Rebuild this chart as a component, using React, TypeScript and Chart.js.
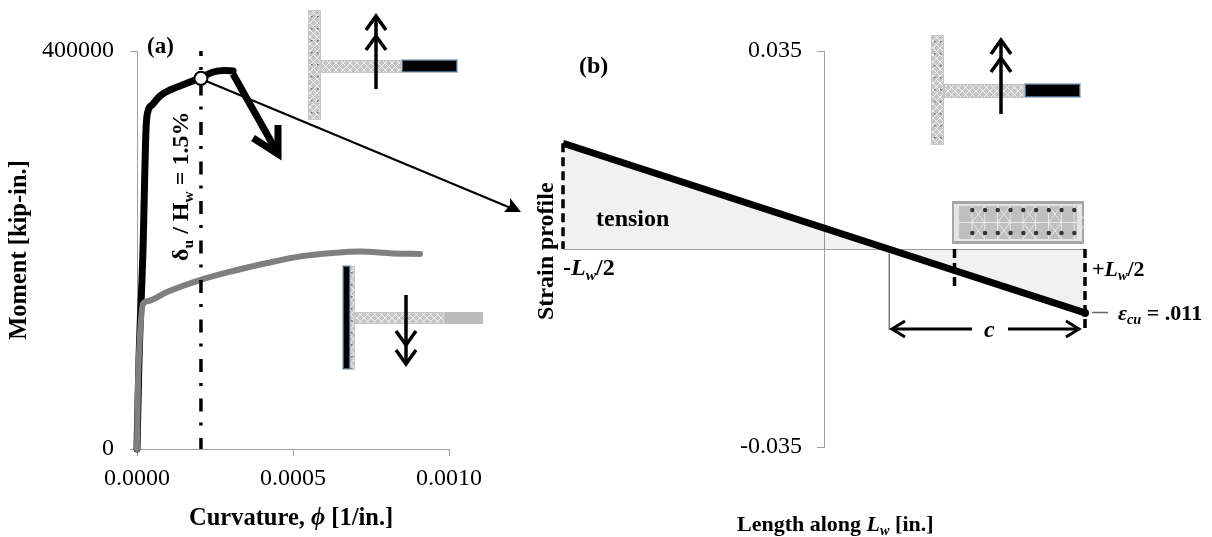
import React, { useEffect, useRef } from "react";
import { Chart, registerables } from "chart.js";

Chart.register(...registerables);

const SERIF = '"Liberation Serif", "Times New Roman", serif';
const W = 1212;
const H = 537;

// Panel (a): moment-curvature
const blackCurvature = [0, 0.0000064, 0.0000192, 0.0000288, 0.0000353, 0.000048, 0.0000737, 0.000106, 0.000154, 0.000202, 0.000244, 0.000282, 0.000308];
const blackMoment = [0, 89400, 200000, 320600, 339700, 345700, 354800, 360800, 366800, 372900, 378900, 380400, 380000];
const grayCurvature = [0, 0.0000032, 0.0000096, 0.0000192, 0.0000353, 0.000096, 0.000202, 0.000308, 0.000417, 0.000522, 0.000628, 0.000715, 0.00082, 0.000907];
const grayMoment = [0, 64300, 114600, 145700, 148700, 157800, 169800, 178900, 186900, 193500, 197000, 198500, 196500, 196000];
const driftCurvature = [0.000205, 0.000205];
const driftMoment = [0, 400000];
const markerCurvature = [0.000205];
const markerMoment = [372500];

// Panel (b): strain profile (position along the wall as % of Lw/2)
const wallPosition = [-100, 100];
const strainValues = [0.0187, -0.0113];
const strainTicks = [-0.035, 0.035];
const leftEdgeStrain = [0.0187, 0];
const rightEdgeStrain = [0, -0.0143];
const boundaryStrain = [0, -0.0066];
const neutralStrain = [-0.0009, -0.0143];

const zip = (xs: number[], ys: number[]) => xs.map((x, i) => ({ x, y: ys[i] }));
const AXIS = "#a0a0a0";

type Run = { t: string; i?: boolean; sub?: boolean };

function runs(ctx: CanvasRenderingContext2D, x: number, y: number, list: Run[], size: number, rot = 0) {
  ctx.save();
  ctx.translate(x, y);
  ctx.rotate(rot);
  ctx.fillStyle = "#000";
  ctx.textAlign = "left";
  ctx.textBaseline = "alphabetic";
  let cx = 0;
  for (const r of list) {
    const s = r.sub ? size * 0.65 : size;
    ctx.font = `${r.i ? "italic " : ""}bold ${s}px ${SERIF}`;
    ctx.fillText(r.t, cx, r.sub ? size * 0.2 : 0);
    cx += ctx.measureText(r.t).width;
  }
  ctx.restore();
}

function seg(ctx: CanvasRenderingContext2D, pts: number[][], w: number, color = "#000") {
  ctx.save();
  ctx.strokeStyle = color;
  ctx.lineWidth = w;
  ctx.lineCap = "butt";
  ctx.lineJoin = "miter";
  ctx.beginPath();
  pts.forEach(([x, y], i) => (i ? ctx.lineTo(x, y) : ctx.moveTo(x, y)));
  ctx.stroke();
  ctx.restore();
}

function hatch(ctx: CanvasRenderingContext2D, x: number, y: number, w: number, h: number) {
  ctx.save();
  ctx.fillStyle = "#c6c6c6";
  ctx.fillRect(x, y, w, h);
  ctx.beginPath();
  ctx.rect(x + 1, y + 1, w - 2, h - 2);
  ctx.clip();
  ctx.strokeStyle = "rgba(255,255,255,0.75)";
  ctx.lineWidth = 1;
  ctx.beginPath();
  const span = w + h;
  for (let d = -span; d < span; d += 7) {
    ctx.moveTo(x + d, y);
    ctx.lineTo(x + d + h, y + h);
    ctx.moveTo(x + d + h, y);
    ctx.lineTo(x + d, y + h);
  }
  ctx.stroke();
  if (h > w) {
    ctx.fillStyle = "#666";
    for (let py = y + 6; py < y + h; py += 12) {
      ctx.fillRect(x + 3, py, 1.5, 1.5);
      ctx.fillRect(x + w - 4, py, 1.5, 1.5);
    }
  }
  ctx.restore();
}

function black(ctx: CanvasRenderingContext2D, x: number, y: number, w: number, h: number) {
  ctx.save();
  ctx.fillStyle = "#bdbdbd";
  ctx.fillRect(x - 1, y - 1, w + 2, h + 2);
  ctx.fillStyle = "#000";
  ctx.strokeStyle = "#3f6a8c";
  ctx.lineWidth = 1;
  ctx.fillRect(x, y, w, h);
  ctx.strokeRect(x + 0.5, y + 0.5, w - 1, h - 1);
  ctx.restore();
}

function doubleArrow(ctx: CanvasRenderingContext2D, x: number, tail: number, tip: number, tip2: number) {
  const dir = tail > tip ? 1 : -1;
  seg(ctx, [[x, tail], [x, tip + dir * 3]], 3.5);
  seg(ctx, [[x - 10, tip + dir * 17], [x, tip + dir * 3], [x + 10, tip + dir * 17]], 3.5);
  seg(ctx, [[x - 10, tip2 + dir * 17], [x, tip2 + dir * 3], [x + 10, tip2 + dir * 17]], 3.5);
}

function section(ctx: CanvasRenderingContext2D) {
  const x = 952, y = 201, w = 132, h = 43;
  ctx.save();
  ctx.fillStyle = "#a6a6a6";
  ctx.fillRect(x, y, w, h);
  ctx.fillStyle = "#e4e4e4";
  ctx.fillRect(x + 2, y + 3, w - 4, h - 6);
  ctx.fillStyle = "#bfbfbf";
  ctx.fillRect(x + 7, y + 5, w - 14, h - 10);
  ctx.strokeStyle = "rgba(238,238,238,0.85)";
  ctx.lineWidth = 1;
  ctx.beginPath();
  ctx.moveTo(x + 7, y + 21.5);
  ctx.lineTo(x + w - 7, y + 21.5);
  for (let i = 0; i < 9; i++) {
    const px = x + 20 + i * 12.75;
    ctx.moveTo(px, y + 5);
    ctx.lineTo(px, y + h - 5);
    ctx.moveTo(px, y + 5);
    ctx.lineTo(px + (i % 2 ? -12.75 : 12.75), y + 21.5);
    ctx.moveTo(px, y + h - 5);
    ctx.lineTo(px + (i % 2 ? -12.75 : 12.75), y + 21.5);
  }
  ctx.stroke();
  ctx.fillStyle = "#333";
  for (let i = 0; i < 9; i++) {
    const px = x + 20.3 + i * 12.75;
    [y + 9, y + 32].forEach((py) => {
      ctx.beginPath();
      ctx.arc(px, py, 2.2, 0, Math.PI * 2);
      ctx.fill();
    });
  }
  ctx.restore();
}

const overlay = {
  id: "overlay",
  afterDraw(chart: any) {
    const ctx: CanvasRenderingContext2D = chart.ctx;
    // Failure arrow on the curve
    seg(ctx, [[233, 74], [277, 152]], 7);
    seg(ctx, [[253, 138], [278, 154], [278, 125]], 7);

    // Schematic (a) top
    hatch(ctx, 308, 10, 13, 110);
    hatch(ctx, 321, 60, 80, 13);
    black(ctx, 402, 60, 55, 12);
    doubleArrow(ctx, 376, 89, 13, 33);

    // Schematic (a) bottom
    hatch(ctx, 342, 266, 13, 104);
    black(ctx, 343, 266, 7, 103);
    hatch(ctx, 355, 312, 90, 12);
    ctx.fillStyle = "#bcbcbc";
    ctx.fillRect(445, 312, 38, 12);
    doubleArrow(ctx, 406, 295, 367, 348);

    // Schematic (b) top
    hatch(ctx, 931, 35, 13, 110);
    hatch(ctx, 944, 84, 80, 14);
    black(ctx, 1025, 84, 55, 13);
    doubleArrow(ctx, 1001, 114, 37, 55);

    section(ctx);

    // Connector arrow between panels
    seg(ctx, [[206, 81], [512, 208.5]], 2);
    ctx.fillStyle = "#000";
    ctx.beginPath();
    ctx.moveTo(521, 212);
    ctx.lineTo(504, 212);
    ctx.lineTo(510, 205);
    ctx.lineTo(510, 198);
    ctx.closePath();
    ctx.fill();

    // Neutral-axis dimension
    seg(ctx, [[893, 329], [972, 329]], 3);
    seg(ctx, [[905, 321], [892, 329], [905, 337]], 3);
    seg(ctx, [[1008, 329], [1079, 329]], 3);
    seg(ctx, [[1066, 321], [1079, 329], [1066, 337]], 3);
    seg(ctx, [[1092, 312.5], [1108, 312.5]], 1.5, "#666");

    // Labels
    runs(ctx, 147, 53, [{ t: "(a)" }], 23);
    runs(ctx, 579, 73, [{ t: "(b)" }], 24);
    runs(ctx, 188, 261, [{ t: "δ" }, { t: "u", sub: true }, { t: " / H" }, { t: "w", sub: true }, { t: " = 1.5%" }], 24, -Math.PI / 2);
    runs(ctx, 189, 525, [{ t: "Curvature, " }, { t: "ϕ", i: true }, { t: " [1/in.]" }], 24.5);
    runs(ctx, 737, 531, [{ t: "Length along " }, { t: "L", i: true }, { t: "w", i: true, sub: true }, { t: " [in.]" }], 22);
    runs(ctx, 553, 320, [{ t: "Strain profile" }], 24, -Math.PI / 2);
    runs(ctx, 596, 226, [{ t: "tension" }], 24);
    runs(ctx, 563, 275, [{ t: "-" }, { t: "L", i: true }, { t: "w", i: true, sub: true }, { t: "/2" }], 24);
    runs(ctx, 1092, 276, [{ t: "+" }, { t: "L", i: true }, { t: "w", i: true, sub: true }, { t: "/2" }], 22);
    runs(ctx, 984, 337, [{ t: "c", i: true }], 24);
    runs(ctx, 1118, 320, [{ t: "ε", i: true }, { t: "cu", i: true, sub: true }, { t: " = .011" }], 22);
  },
};

const axisCommon = {
  border: { display: true, color: AXIS, width: 1 },
  grid: { drawOnChartArea: false, drawTicks: true, tickLength: 7, color: AXIS, lineWidth: 1 },
};

export default function App() {
  const aRef = useRef<HTMLCanvasElement>(null);
  const bRef = useRef<HTMLCanvasElement>(null);

  useEffect(() => {
    const chartA = new Chart(aRef.current!, {
      type: "line",
      data: {
        datasets: [
          { label: "Drift limit marker", data: zip(markerCurvature, markerMoment), showLine: false, clip: false, pointRadius: 6.5, pointBackgroundColor: "#fff", pointBorderColor: "#000", pointBorderWidth: 2 },
          { label: "Drift limit", data: zip(driftCurvature, driftMoment), borderColor: "#000", borderWidth: 3.5, borderDash: [13, 12.5, 3, 11], borderDashOffset: 2, pointRadius: 0 },
          { label: "Flange in tension", data: zip(grayCurvature, grayMoment), clip: false, borderColor: "#7f7f7f", borderWidth: 6, pointRadius: 0, borderCapStyle: "round", borderJoinStyle: "round", cubicInterpolationMode: "monotone" },
          { label: "Web in tension", data: zip(blackCurvature, blackMoment), clip: false, borderColor: "#000", borderWidth: 7, pointRadius: 0, borderCapStyle: "round", borderJoinStyle: "round", cubicInterpolationMode: "monotone" },
        ],
      },
      options: {
        animation: false,
        responsive: false,
        layout: { padding: { left: 0, top: 51, right: W - 449, bottom: 0 } },
        plugins: { legend: { display: false }, tooltip: { enabled: false } },
        scales: {
          x: {
            type: "linear",
            min: 0,
            max: 0.001,
            ...axisCommon,
            afterFit: (s: any) => { s.height = H - 449; },
            ticks: { stepSize: 0.0005, maxRotation: 0, padding: 8, color: "#000", font: { family: SERIF, size: 24 }, callback: (v: any) => Number(v).toFixed(4) },
          },
          y: {
            min: 0,
            max: 400000,
            ...axisCommon,
            afterFit: (s: any) => { s.width = 137; },
            ticks: { stepSize: 400000, padding: 16, color: "#000", font: { family: SERIF, size: 24 }, callback: (v: any) => String(v) },
            title: { display: true, text: "Moment [kip-in.]", color: "#000", font: { family: SERIF, size: 24.5, weight: "bold" }, padding: { top: 5, bottom: 0 } },
          },
        },
      } as any,
    });

    const chartB = new Chart(bRef.current!, {
      type: "line",
      plugins: [overlay],
      data: {
        datasets: [
          { label: "Strain", data: zip(wallPosition, strainValues), clip: false, borderColor: "#000", borderWidth: 7, fill: { value: 0 }, backgroundColor: "rgba(0,0,0,0.055)", pointRadius: [0, 4], pointBackgroundColor: "#000", pointBorderWidth: 0 },
          { label: "Left edge", data: zip([-100, -100], leftEdgeStrain), clip: false, borderColor: "#000", borderWidth: 3.5, borderDash: [9, 5], pointRadius: 0 },
          { label: "Right edge", data: zip([100, 100], rightEdgeStrain), clip: false, borderColor: "#000", borderWidth: 3.5, borderDash: [9, 5], pointRadius: 0 },
          { label: "Boundary element", data: zip([50, 50], boundaryStrain), clip: false, borderColor: "#000", borderWidth: 3.5, borderDash: [9, 5], pointRadius: 0 },
          { label: "Neutral axis", data: zip([25, 25], neutralStrain), borderColor: "#555", borderWidth: 1.2, pointRadius: 0 },
        ],
      },
      options: {
        animation: false,
        responsive: false,
        layout: { padding: { left: 563, top: 51, right: W - 1085, bottom: H - 447 } },
        plugins: { legend: { display: false }, tooltip: { enabled: false } },
        scales: {
          x: {
            type: "linear",
            min: -100,
            max: 100,
            position: { y: 0 },
            border: { display: true, color: AXIS, width: 1 },
            grid: { display: false },
            ticks: { display: false },
          },
          y: {
            min: -0.035,
            max: 0.035,
            position: { x: 0 },
            ...axisCommon,
            afterBuildTicks: (s: any) => { s.ticks = strainTicks.map((value) => ({ value })); },
            afterFit: (s: any) => {
              // Chart.js puts labels of a centred axis flush against it; keep them clear of the ticks.
              const compute = s._computeLabelItems.bind(s);
              s._computeLabelItems = (area: any) =>
                compute(area).map((it: any) => ({
                  ...it,
                  options: { ...it.options, translation: [it.options.translation[0] - 22, it.options.translation[1]] },
                }));
            },
            ticks: { color: "#000", font: { family: SERIF, size: 24 }, callback: (v: any) => Number(v).toFixed(3) },
          },
        },
      } as any,
    });

    return () => {
      chartA.destroy();
      chartB.destroy();
    };
  }, []);

  const style: React.CSSProperties = { position: "absolute", left: 0, top: 0 };
  return (
    <div style={{ position: "absolute", left: 0, top: 0, width: W, height: H, background: "#fff", overflow: "hidden" }}>
      <canvas ref={aRef} width={W} height={H} style={style} />
      <canvas ref={bRef} width={W} height={H} style={style} />
    </div>
  );
}
